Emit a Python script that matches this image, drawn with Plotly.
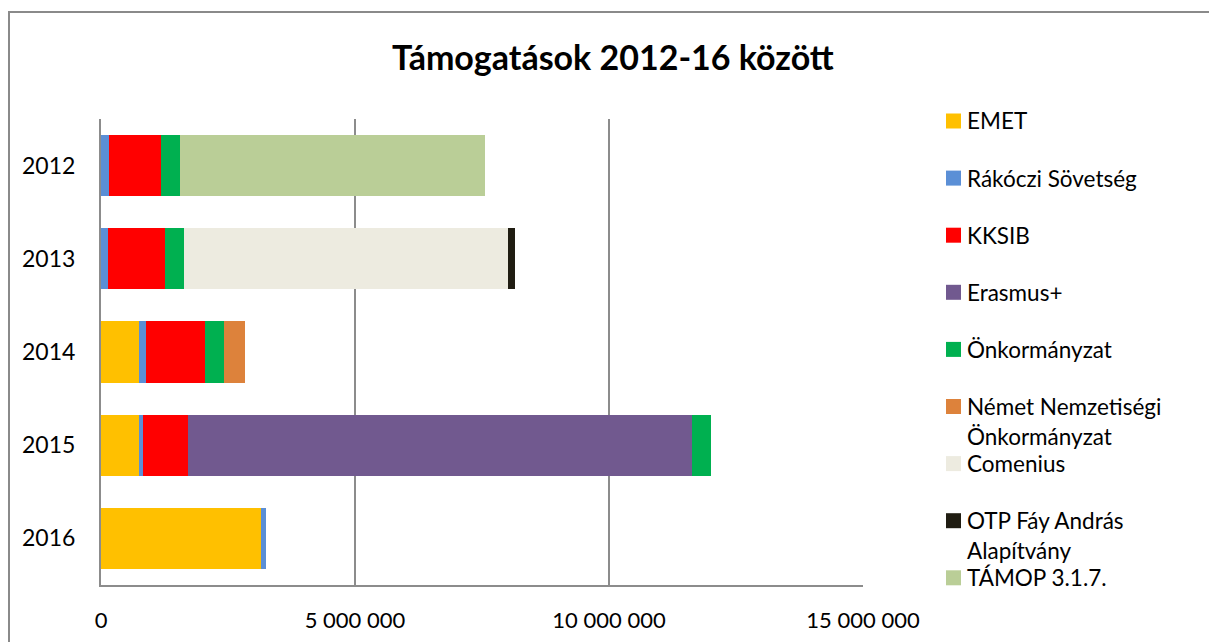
import plotly.graph_objects as go

# ---- data ----
years = ["2012", "2013", "2014", "2015", "2016"]
series_names = ["EMET", "Rákóczi Sövetség", "KKSIB", "Erasmus+", "Önkormányzat",
                "Német Nemzetiségi Önkormányzat", "Comenius", "OTP Fáy András Alapítvány",
                "TÁMOP 3.1.7."]
emet =        [0,       0,       750000,  750000,  3140000]
rakoczi =     [160000,  130000,  130000,  80000,   100000]
kksib =       [1030000, 1130000, 1170000, 890000,  0]
erasmus =     [0,       0,       0,       9920000, 0]
onkormanyzat =[360000,  380000,  370000,  360000,  0]
nemet =       [0,       0,       410000,  0,       0]
comenius =    [0,       6380000, 0,       0,       0]
otp =         [0,       120000,  0,       0,       0]
tamop =       [6000000, 0,       0,       0,       0]
series_values = [emet, rakoczi, kksib, erasmus, onkormanyzat, nemet, comenius, otp, tamop]
x_ticks = [0, 5000000, 10000000, 15000000]
title_text = "Támogatások 2012-16 között"

# ---- style ----
colors = ["#FFC000", "#5B8FD6", "#FF0000", "#71598F", "#00B050",
          "#DD823B", "#EDEBE0", "#201D12", "#BACE97"]
legend_lines = [["EMET"], ["Rákóczi Sövetség"], ["KKSIB"], ["Erasmus+"], ["Önkormányzat"],
                ["Német Nemzetiségi", "Önkormányzat"], ["Comenius"],
                ["OTP Fáy András", "Alapítvány"], ["TÁMOP 3.1.7."]]
FONT = "Lato"
W, H = 1209, 642
L, R, T, B = 101, 863, 119, 585
pw, ph = R - L, B - T

def px(x):
    return (x - L) / pw

def py(y):
    return (B - y) / ph

fig = go.Figure()
for name, vals, col in zip(series_names, series_values, colors):
    fig.add_trace(go.Bar(y=years, x=vals, name=name, orientation="h",
                         marker=dict(color=col, line=dict(width=0)), showlegend=False))

shapes = []
annotations = []
# chart border
shapes.append(dict(type="rect", xref="paper", yref="paper",
                   x0=px(9), x1=px(1230), y0=py(660), y1=py(12),
                   line=dict(color="#8A8A8A", width=2), fillcolor="rgba(0,0,0,0)", layer="below"))
# manual legend
for i, (lines, col) in enumerate(zip(legend_lines, colors)):
    cy = 121 + 57.1 * i
    shapes.append(dict(type="rect", xref="paper", yref="paper",
                       x0=px(946), x1=px(961), y0=py(cy + 7.5), y1=py(cy - 7.5),
                       fillcolor=col, line=dict(width=0)))
    for j, ln in enumerate(lines):
        annotations.append(dict(text=ln, xref="paper", yref="paper", x=px(965), y=py(cy + 30 * j),
                                xanchor="left", yanchor="middle", showarrow=False,
                                font=dict(family=FONT, size=22.5, color="#000000")))
# title
annotations.append(dict(text="<b>" + title_text + "</b>", xref="paper", yref="paper",
                        x=px(613), y=py(57), xanchor="center", yanchor="middle", showarrow=False,
                        font=dict(family=FONT, size=34, color="#000000")))

fig.update_layout(
    width=W, height=H,
    margin=dict(l=L, r=W - R, t=T, b=H - B, pad=0, autoexpand=False),
    barmode="stack", bargap=0.345,
    plot_bgcolor="white", paper_bgcolor="white",
    separators=", ",
    font=dict(family=FONT, size=22, color="#000000"),
    shapes=shapes, annotations=annotations,
    xaxis=dict(range=[0, 15000000], tickvals=x_ticks, tickformat=",d", automargin=False,
               showgrid=True, gridcolor="#8C8C8C", gridwidth=2,
               showline=True, linecolor="#8C8C8C", linewidth=2,
               zeroline=False, ticks="", ticklabelstandoff=15,
               tickfont=dict(family=FONT, size=22)),
    yaxis=dict(autorange="reversed", showgrid=False, showline=True, automargin=False,
               linecolor="#8C8C8C", linewidth=2, ticks="", ticklabelstandoff=19,
               tickfont=dict(family=FONT, size=23)),
)

fig.write_html("out.html", config={"displayModeBar": False},
               post_script="document.body.style.margin='0';document.body.style.overflow='hidden';")
